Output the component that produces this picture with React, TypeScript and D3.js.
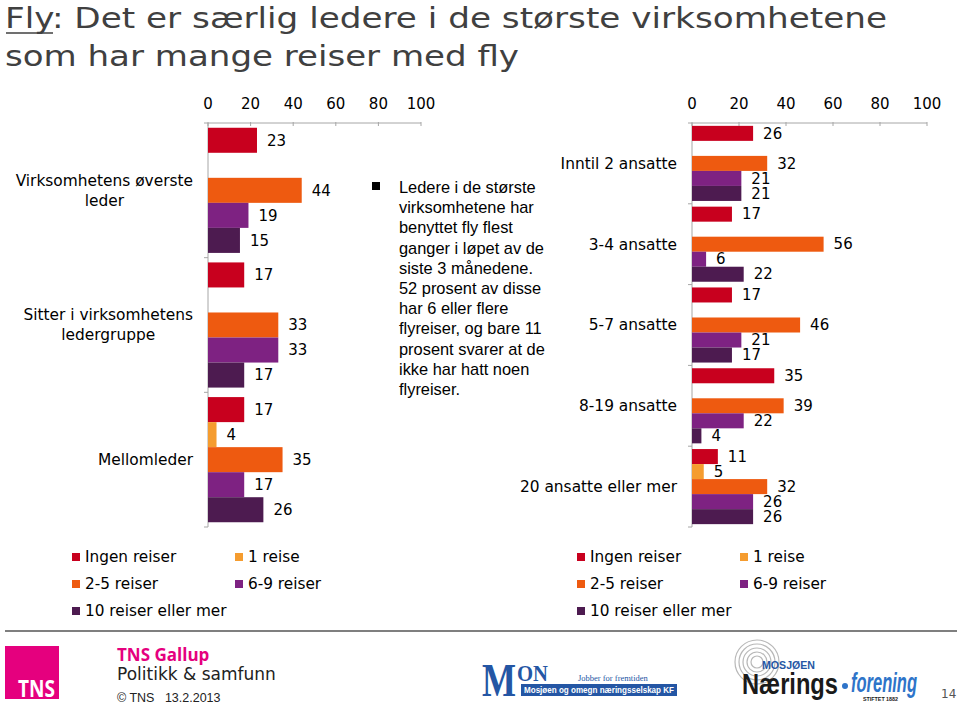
import React from "react";
import * as d3 from "d3";

const seriesNames = ["Ingen reiser", "1 reise", "2-5 reiser", "6-9 reiser", "10 reiser eller mer"];
const seriesColors = ["#C8001E", "#F59C2F", "#EE5A10", "#7E2282", "#4D1B50"];

const leftCategories = [["Virksomhetens øverste", "leder"], ["Sitter i virksomhetens", "ledergruppe"], ["Mellomleder"]];
const leftIngen = [23, 17, 17];
const left1 = [0, 0, 4];
const left25 = [44, 33, 35];
const left69 = [19, 33, 17];
const left10 = [15, 17, 26];

const rightCategories = [["Inntil 2 ansatte"], ["3-4 ansatte"], ["5-7 ansatte"], ["8-19 ansatte"], ["20 ansatte eller mer"]];
const rightIngen = [26, 17, 17, 35, 11];
const right1 = [0, 0, 0, 0, 5];
const right25 = [32, 56, 46, 39, 32];
const right69 = [21, 6, 21, 22, 26];
const right10 = [21, 22, 17, 4, 26];

const axisTicks = [0, 20, 40, 60, 80, 100];

const bulletLines = [
  "Ledere i de største",
  "virksomhetene har",
  "benyttet fly flest",
  "ganger i løpet av de",
  "siste 3 månedene.",
  "52 prosent av disse",
  "har 6 eller flere",
  "flyreiser, og bare 11",
  "prosent svarer at de",
  "ikke har hatt noen",
  "flyreiser.",
];

const FONT = "'DejaVu Sans', Verdana, sans-serif";
const AXIS = "#A6A6A6";

let ctx: CanvasRenderingContext2D | null = null;
function measure(text: string, font: string) {
  if (!ctx) ctx = document.createElement("canvas").getContext("2d");
  if (!ctx) return text.length * 8;
  ctx.font = font;
  return ctx.measureText(text).width;
}

type ChartProps = {
  cats: string[][];
  series: number[][];
  x0: number;
  x1: number;
  y0: number;
  y1: number;
  labelRight: number;
  centerLines: boolean;
};

function BarChart({ cats, series, x0, x1, y0, y1, labelRight, centerLines }: ChartProps) {
  const x = d3.scaleLinear().domain([0, 100]).range([x0, x1]);
  const idx = cats.map((_, i) => String(i));
  const y = d3.scaleBand().domain(idx).range([y0, y1]).paddingInner(0).paddingOuter(0);
  const inner = d3
    .scaleBand()
    .domain(seriesNames)
    .range([0, y.bandwidth()])
    .paddingInner(0)
    .paddingOuter(0.19);
  const fontSize = 15;
  const catSize = 15.4;
  const font = `${catSize}px 'DejaVu Sans'`;
  return (
    <g>
      <line x1={x0} x2={x1} y1={y0} y2={y0} stroke={AXIS} strokeWidth={1} />
      {axisTicks.map((t) => (
        <g key={t}>
          <line x1={x(t)} x2={x(t)} y1={y0 - 1} y2={y0 + 3} stroke={AXIS} />
          <text x={x(t)} y={109} textAnchor="middle" fontFamily={FONT} fontSize={fontSize} fill="#000">
            {t}
          </text>
        </g>
      ))}
      <line x1={x0} x2={x0} y1={y0} y2={y1} stroke={AXIS} strokeWidth={1} />
      {d3.range(cats.length + 1).map((i) => {
        const yy = i === cats.length ? y1 : (y(String(i)) as number);
        return <line key={i} x1={x0 - 4} x2={x0} y1={yy} y2={yy} stroke={AXIS} />;
      })}
      {cats.map((lines, ci) => {
        const gy = y(String(ci)) as number;
        const cy = gy + y.bandwidth() / 2;
        const widths = lines.map((l) => measure(l, font));
        const maxW = Math.max(...widths);
        const lh = 20;
        return (
          <g key={ci}>
            {lines.map((l, li) => (
              <text
                key={li}
                x={centerLines ? labelRight - maxW / 2 : labelRight}
                y={cy + (li - (lines.length - 1) / 2) * lh}
                dy="0.35em"
                textAnchor={centerLines ? "middle" : "end"}
                fontFamily={FONT}
                fontSize={catSize}
                fill="#000"
              >
                {l}
              </text>
            ))}
            {seriesNames.map((s, si) => {
              const v = series[si][ci];
              if (!v) return null;
              const by = gy + (inner(s) as number);
              return (
                <g key={s}>
                  <rect
                    x={x(0)}
                    y={by}
                    width={x(v) - x(0)}
                    height={inner.bandwidth()}
                    fill={seriesColors[si]}
                  />
                  <text
                    x={x(v) + 10}
                    y={by + inner.bandwidth() / 2}
                    dy="0.35em"
                    fontFamily={FONT}
                    fontSize={fontSize}
                    fill="#000"
                  >
                    {v}
                  </text>
                </g>
              );
            })}
          </g>
        );
      })}
    </g>
  );
}

function Legend({ x, xCol2 }: { x: number; xCol2: number }) {
  const rows = [557, 584, 611];
  const pos = [
    [x, rows[0]],
    [xCol2, rows[0]],
    [x, rows[1]],
    [xCol2, rows[1]],
    [x, rows[2]],
  ];
  return (
    <g>
      {seriesNames.map((s, i) => (
        <g key={s}>
          <rect x={pos[i][0]} y={pos[i][1] - 4} width={8} height={8} fill={seriesColors[i]} />
          <text x={pos[i][0] + 13} y={pos[i][1]} dy="0.35em" fontFamily={FONT} fontSize={15.3} fill="#000">
            {s}
          </text>
        </g>
      ))}
    </g>
  );
}

export default function App() {
  const leftSeries = [leftIngen, left1, left25, left69, left10];
  const rightSeries = [rightIngen, right1, right25, right69, right10];
  return (
    <svg
      width={960}
      height={705}
      viewBox="0 0 960 705"
      style={{ position: "absolute", left: 0, top: 0, background: "#fff" }}
    >
      <rect x={0} y={0} width={960} height={705} fill="#fff" />
      <text x={5} y={28} fontFamily={FONT} fontSize={29} fill="#404040" textLength={882} lengthAdjust="spacingAndGlyphs">
        <tspan>Fly</tspan>
        <tspan>: Det er særlig ledere i de største virksomhetene</tspan>
      </text>
      <line x1={6} x2={53} y1={33} y2={33} stroke="#404040" strokeWidth={1.5} />
      <text x={5} y={66} fontFamily={FONT} fontSize={29} fill="#404040" textLength={514} lengthAdjust="spacingAndGlyphs">
        som har mange reiser med fly
      </text>

      <BarChart
        cats={leftCategories}
        series={leftSeries}
        x0={208}
        x1={421}
        y0={123}
        y1={527}
        labelRight={193}
        centerLines={true}
      />
      <BarChart
        cats={rightCategories}
        series={rightSeries}
        x0={692}
        x1={927}
        y0={123}
        y1={527}
        labelRight={677}
        centerLines={false}
      />

      <rect x={372} y={182} width={8} height={8} fill="#000" />
      {bulletLines.map((l, i) => (
        <text
          key={i}
          x={399}
          y={193 + i * 20.2}
          fontFamily="'Liberation Sans', Arial, sans-serif"
          fontSize={16.4}
          fill="#000"
        >
          {l}
        </text>
      ))}

      <Legend x={72} xCol2={235} />
      <Legend x={577} xCol2={740} />

      <line x1={5} x2={957} y1={631} y2={631} stroke="#555" strokeWidth={1.5} />

      <rect x={5} y={646} width={54} height={53} fill="#E5007E" />
      <text
        x={18}
        y={697}
        fontFamily="'Open Sans', sans-serif"
        fontWeight={700}
        fontSize={24}
        fill="#fff"
        textLength={37}
        lengthAdjust="spacingAndGlyphs"
      >
        TNS
      </text>
      <text x={117} y={661} fontFamily="'Open Sans', sans-serif" fontWeight={700} fontSize={17} fill="#E5007E">
        TNS Gallup
      </text>
      <text x={117} y={680} fontFamily={FONT} fontSize={17} fill="#222">
        Politikk &amp; samfunn
      </text>
      <text x={117} y={702} fontFamily="'Liberation Sans', Arial, sans-serif" fontSize={12.5} fill="#222" xmlSpace="preserve">
        © TNS   13.2.2013
      </text>

      <text x={482} y={696} fontFamily="'Liberation Serif', serif" fontWeight={700} fontSize={46} fill="#2456A4"
        textLength={34} lengthAdjust="spacingAndGlyphs">
        M
      </text>
      <text x={517} y={681} fontFamily="'Liberation Serif', serif" fontWeight={700} fontSize={24} fill="#2456A4"
        textLength={31} lengthAdjust="spacingAndGlyphs">
        ON
      </text>
      <text x={578} y={681} fontFamily="'Liberation Serif', serif" fontSize={8.5} fill="#2456A4">
        Jobber for fremtiden
      </text>
      <rect x={521} y={684} width={156} height={12} fill="#2456A4" />
      <text x={524} y={693} fontFamily="'Liberation Sans', Arial, sans-serif" fontWeight={700} fontSize={8.5} fill="#fff"
        textLength={150} lengthAdjust="spacingAndGlyphs">
        Mosjøen og omegn næringsselskap KF
      </text>

      {[6, 10, 14, 18, 22].map((r) => (
        <circle key={r} cx={757} cy={662} r={r} fill="none" stroke="#B8B8B8" strokeWidth={1.2} />
      ))}
      <text x={762} y={669} fontFamily="'Liberation Sans', Arial, sans-serif" fontWeight={700} fontSize={11} fill="#2456A4"
        textLength={53} lengthAdjust="spacingAndGlyphs">
        MOSJØEN
      </text>
      <text x={742} y={694} fontFamily="'Liberation Sans', Arial, sans-serif" fontWeight={700} fontSize={29} fill="#1a1a1a"
        textLength={96} lengthAdjust="spacingAndGlyphs">
        Nærings
      </text>
      <circle cx={845} cy={686} r={3} fill="#2E74C9" />
      <text x={851} y={692} fontFamily="'Liberation Sans', Arial, sans-serif" fontWeight={700} fontStyle="italic" fontSize={27} fill="#2E74C9"
        textLength={66} lengthAdjust="spacingAndGlyphs">
        forening
      </text>
      <text x={863} y={701} fontFamily="'Liberation Sans', Arial, sans-serif" fontWeight={700} fontSize={5.5} fill="#1a1a1a"
        textLength={35} lengthAdjust="spacingAndGlyphs">
        STIFTET 1882
      </text>

      <text x={941} y={698} fontFamily={FONT} fontSize={12} fill="#555">
        14
      </text>
    </svg>
  );
}
